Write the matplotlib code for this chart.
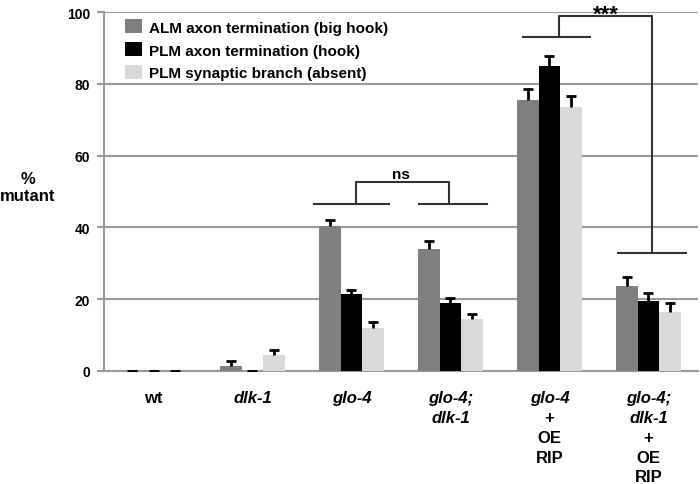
import matplotlib.pyplot as plt
import numpy as np

plt.rcParams['font.family'] = ['Liberation Sans', 'DejaVu Sans']
plt.rcParams['font.weight'] = 'bold'

groups = [['wt'], ['dlk-1'], ['glo-4'], ['glo-4;', 'dlk-1'],
          ['glo-4', '+', 'OE', 'RIP'], ['glo-4;', 'dlk-1', '+', 'OE', 'RIP']]
italic_words = ['dlk-1', 'glo-4', 'glo-4;']
series = ['ALM axon termination (big hook)', 'PLM axon termination (hook)',
          'PLM synaptic branch (absent)']
alm = [0, 1.5, 40.5, 34, 75.5, 23.7]
alm_err = [0, 1.2, 1.5, 2.2, 3, 2.5]
plm = [0, 0, 21.5, 19, 85, 19.5]
plm_err = [0, 0, 1.2, 1.2, 2.8, 2.2]
syn = [0, 4.5, 12, 14.5, 73.5, 16.4]
syn_err = [0, 1.3, 1.6, 1.4, 3.2, 2.5]
colors = ['#808080', '#000000', '#d9d9d9']

fig = plt.figure(figsize=(7, 4.85), dpi=100)
ax = fig.add_axes([0.1486, 0.233, 0.8484, 0.74])

x = np.arange(len(groups))
w = 0.22
for k, (vals, errs) in enumerate([(alm, alm_err), (plm, plm_err), (syn, syn_err)]):
    pos = x + (k - 1) * w
    ax.bar(pos, vals, w, color=colors[k], label=series[k], zorder=3)
    eb = ax.errorbar(pos, vals, yerr=[np.zeros(len(errs)), errs], fmt='none',
                     ecolor='black', elinewidth=2, capsize=3.6, capthick=2, zorder=4)
    # only the upper cap is drawn in the original
    eb[1][0].set_visible(False)

ax.set_xlim(-0.5, 5.5)
ax.set_ylim(0, 100)
ax.set_yticks([0, 20, 40, 60, 80, 100])
ax.yaxis.grid(True, color='#999999', linewidth=1.5, zorder=0)
ax.set_xticks([])
for s in ['top', 'right']:
    ax.spines[s].set_visible(False)
ax.spines['left'].set_color('#999999')
ax.spines['left'].set_linewidth(1.5)
ax.spines['bottom'].set_color('#999999')
ax.spines['bottom'].set_linewidth(1.5)
ax.tick_params(axis='y', length=5, width=1.5, color='#999999', labelsize=10, pad=5)
for t in ax.get_yticklabels():
    t.set_fontweight('bold')

fig.text(0.04, 1 - 188 / 485, '%\nmutant', ha='center', va='center', fontsize=12,
         fontweight='bold', linespacing=1.1)

# group labels, one line at a time
for i, lines in enumerate(groups):
    for j, word in enumerate(lines):
        style = 'italic' if word in italic_words else 'normal'
        ax.text(i, -(27 + j * 19.7) / 359, word, ha='center', va='center',
                fontsize=12, fontweight='bold', style=style,
                transform=ax.get_xaxis_transform(), clip_on=False)

# ns bracket
lk = dict(color='#333333', linewidth=1.5, clip_on=False, zorder=5)
ax.plot([1.62, 2.38], [46.5, 46.5], **lk)
ax.plot([2.68, 3.37], [46.5, 46.5], **lk)
ax.plot([2.05, 2.05, 2.99, 2.99], [46.5, 52.6, 52.6, 46.5], **lk)
ax.text(2.5, 55, 'ns', ha='center', va='center', fontsize=11, fontweight='bold')

# *** bracket
ax.plot([3.73, 4.41], [93, 93], **lk)
ax.plot([4.69, 5.38], [33, 33], **lk)
ax.plot([4.10, 4.10, 5.04, 5.04], [93, 98.9, 98.9, 33], **lk)
ax.text(4.57, 97.9, '***', ha='center', va='baseline', fontsize=16, fontweight='bold',
        clip_on=False)

ax.legend(loc='upper left', bbox_to_anchor=(0.025, 0.997), frameon=False,
          handlelength=1.1, handleheight=1.05, handletextpad=0.45,
          labelspacing=0.5, borderaxespad=0, prop={'weight': 'bold', 'size': 11})

fig.savefig('out.png', dpi=100)
